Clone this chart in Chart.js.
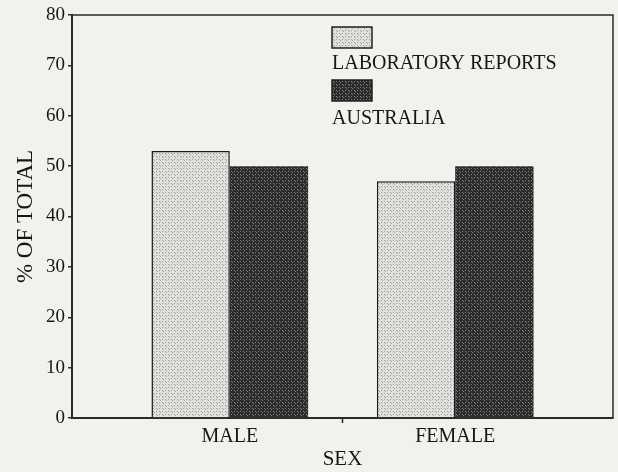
<!DOCTYPE html>
<html>
<head>
<meta charset="utf-8">
<script src="https://cdn.jsdelivr.net/npm/chart.js@4.4.1/dist/chart.umd.min.js"></script>
<style>
  html, body { margin: 0; padding: 0; background: #f1f1ee; }
  #wrap { width: 618px; height: 472px; position: relative; }
</style>
</head>
<body>
<div id="wrap"><canvas id="c" width="618" height="472"></canvas></div>
<script>
// ---- data ----
const categories = ['MALE', 'FEMALE'];
const seriesNames = ['LABORATORY REPORTS', 'AUSTRALIA'];
const labReports = [53, 47];
const australia = [50, 50];
const yTicks = [0, 10, 20, 30, 40, 50, 60, 70, 80];
const xTitle = 'SEX';
const yTitle = '% OF TOTAL';

const FONT = '"Liberation Serif", "DejaVu Serif", serif';
const INK = '#161616';

function makePattern(bg, dot) {
  const c = document.createElement('canvas');
  c.width = 6; c.height = 6;
  const g = c.getContext('2d');
  g.fillStyle = bg; g.fillRect(0, 0, 6, 6);
  g.fillStyle = dot;
  g.fillRect(0, 0, 1, 1); g.fillRect(3, 0, 1, 1);
  g.fillRect(0, 3, 1, 1); g.fillRect(3, 3, 1, 1);
  g.fillRect(1, 1, 1, 1); g.fillRect(4, 4, 1, 1);
  return g.createPattern(c, 'repeat');
}
const ctx = document.getElementById('c').getContext('2d');
const lightPat = makePattern('#e0e0dd', '#9c9c9a');
const darkPat = makePattern('#2c2c2c', '#7e7e7e');
const fills = [lightPat, darkPat];

const toPoints = arr => arr.map((v, i) => ({ x: i, y: v }));

const framePlugin = {
  id: 'frame',
  afterDatasetsDraw(chart) {
    const a = chart.chartArea, g = chart.ctx;
    const xs = chart.scales.x;
    g.save();
    g.strokeStyle = '#2a2a2a';
    g.lineWidth = 1.5;
    g.beginPath();
    g.moveTo(a.left, a.top); g.lineTo(a.right, a.top); g.lineTo(a.right, a.bottom);
    g.stroke();
    // small separator tick between the two categories
    const mid = xs.getPixelForValue((0 + categories.length - 1) / 2);
    g.beginPath();
    g.moveTo(mid, a.bottom); g.lineTo(mid, a.bottom + 5);
    g.stroke();
    g.restore();
  }
};

const legendPlugin = {
  id: 'boxLegend',
  afterDraw(chart) {
    const g = chart.ctx;
    const x = 332;
    const rows = [{ boxTop: 27, textY: 64 }, { boxTop: 80, textY: 119 }];
    g.save();
    chart.data.datasets.forEach((ds, i) => {
      const r = rows[i];
      g.fillStyle = ds.backgroundColor;
      g.fillRect(x, r.boxTop, 40, 21);
      g.strokeStyle = '#222';
      g.lineWidth = 1.5;
      g.strokeRect(x, r.boxTop, 40, 21);
      g.fillStyle = INK;
      g.font = '20px ' + FONT;
      g.textBaseline = 'middle';
      g.textAlign = 'left';
      g.fillText(ds.label, x, r.textY);
    });
    g.restore();
  }
};

new Chart(ctx, {
  type: 'bar',
  data: {
    datasets: [
      { label: seriesNames[0], data: toPoints(labReports), backgroundColor: fills[0],
        borderColor: '#1a1a1a', borderWidth: { top: 1.5, left: 1.5, right: 1.5, bottom: 0 }, borderSkipped: 'bottom' },
      { label: seriesNames[1], data: toPoints(australia), backgroundColor: fills[1],
        borderColor: '#2a2a2a', borderWidth: 0 }
    ]
  },
  options: {
    responsive: false,
    animation: false,
    devicePixelRatio: 1,
    layout: { padding: { top: 15, right: 5, left: 0, bottom: 0 } },
    datasets: { bar: { categoryPercentage: 0.695, barPercentage: 1.0, grouped: true } },
    plugins: { legend: { display: false }, tooltip: { enabled: false } },
    scales: {
      x: {
        type: 'linear',
        offset: false,
        min: -0.7, max: 1.7,
        afterBuildTicks: s => { s.ticks = categories.map((c, i) => ({ value: i })); },
        afterFit: s => { s.height = 54; },
        ticks: {
          autoSkip: false, maxRotation: 0,
          callback: v => categories[v] !== undefined ? categories[v] : '',
          color: INK, font: { family: FONT, size: 20 }, padding: 2
        },
        grid: {
          offset: false, drawOnChartArea: false, drawTicks: true, tickLength: 5,
          color: 'rgba(0,0,0,0)', lineWidth: 1.5
        },
        border: { display: true, color: '#2a2a2a', width: 2 },
        title: { display: true, text: xTitle, color: INK, font: { family: FONT, size: 21 }, padding: { top: 0, bottom: 0 } }
      },
      y: {
        min: 0, max: 80,
        afterBuildTicks: s => { s.ticks = yTicks.map(v => ({ value: v })); },
        afterFit: s => { s.width = 72; },
        ticks: { color: INK, font: { family: FONT, size: 19 }, padding: 3 },
        grid: { drawOnChartArea: false, drawTicks: true, tickLength: 4, color: '#2a2a2a', lineWidth: 1.5 },
        border: { display: true, color: '#2a2a2a', width: 2 },
        title: { display: true, text: yTitle, color: INK, font: { family: FONT, size: 23 }, padding: { top: 12, bottom: 0 } }
      }
    }
  },
  plugins: [framePlugin, legendPlugin]
});
</script>
</body>
</html>
